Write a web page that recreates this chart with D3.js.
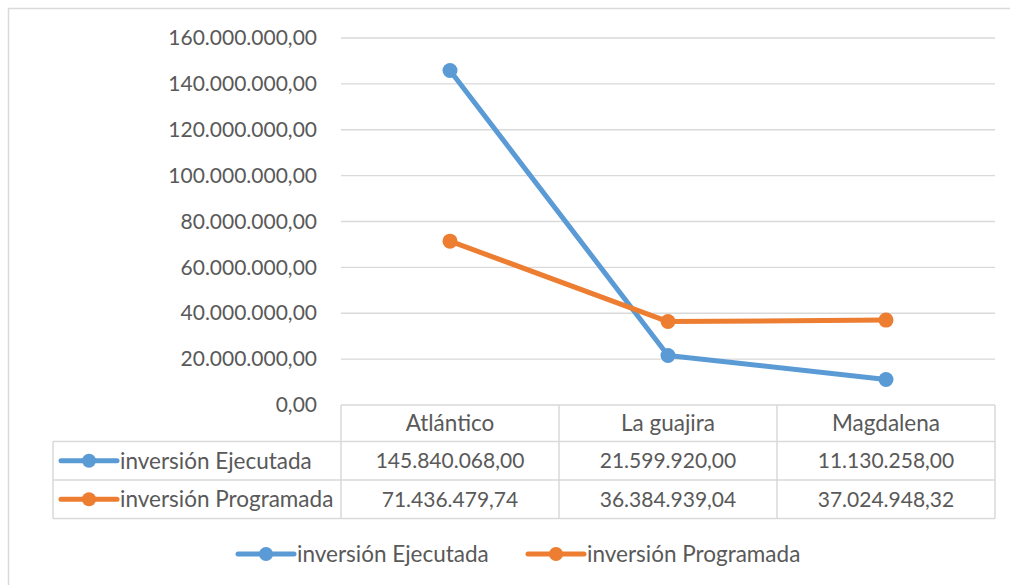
<!DOCTYPE html>
<html lang="es">
<head>
<meta charset="utf-8">
<title>inversión por departamento</title>
<script src="https://d3js.org/d3.v7.min.js"></script>
<style>
  body { margin: 0; background: #fff; }
  text { font-family: Lato, "Open Sans", sans-serif; fill: #595959; }
  .grid line { stroke: #d9d9d9; stroke-width: 1.3px; }
  .tbl line.rule { stroke: #d9d9d9; stroke-width: 1.5px; }
</style>
</head>
<body>
<script>
// data
var categories = ["Atlántico", "La guajira", "Magdalena"];
var ejecutada = [145840068.00, 21599920.00, 11130258.00];
var programada = [71436479.74, 36384939.04, 37024948.32];
var seriesNames = ["inversión Ejecutada", "inversión Programada"];
var seriesColors = ["#5b9bd5", "#ed7d31"];
var yTicks = [0, 20000000, 40000000, 60000000, 80000000, 100000000, 120000000, 140000000, 160000000];

var w = 1010, h = 585;
var plot = {left: 341, right: 995, top: 38, bottom: 405};
var rowY = [405, 441.5, 480, 518.5]; // table rows
var keyLeft = 53;
var numSize = "21px", wordSize = "22.5px";

var es = d3.formatLocale({decimal: ",", thousands: ".", grouping: [3], currency: ["", ""]});
var fmt = es.format(",.2f");

var svg = d3.select("body").append("svg")
  .attr("width", w).attr("height", h);

// outer chart border (only top & left visible)
svg.append("rect")
  .attr("x", 8.5).attr("y", 8.5)
  .attr("width", w).attr("height", h)
  .attr("fill", "none").attr("stroke", "#d9d9d9").attr("stroke-width", 1.5);

var xScale = d3.scaleBand().domain(categories).range([plot.left, plot.right]);
var yScale = d3.scaleLinear().domain([0, 160000000]).range([plot.bottom, plot.top]);

// gridlines
svg.append("g").attr("class", "grid")
  .selectAll("line").data(yTicks.slice(1)).enter().append("line")
  .attr("x1", plot.left).attr("x2", plot.right)
  .attr("y1", d => yScale(d)).attr("y2", d => yScale(d));

// y axis labels
var yAxis = d3.axisLeft(yScale).tickValues(yTicks).tickFormat(fmt).tickSize(0).tickPadding(24);
var ya = svg.append("g").attr("transform", `translate(${plot.left},0)`).call(yAxis);
ya.select(".domain").remove();
ya.selectAll("text").style("font-size", numSize).attr("fill", "#595959").style("font-family", null);

// data table
var tbl = svg.append("g").attr("class", "tbl");
function rule(x1, x2, y1, y2) {
  tbl.append("line").attr("class", "rule")
    .attr("x1", x1).attr("x2", x2).attr("y1", y1).attr("y2", y2);
}
rule(plot.left, plot.right, rowY[0], rowY[0]);
[1, 2, 3].forEach(i => rule(keyLeft, plot.right, rowY[i], rowY[i]));
rule(keyLeft, keyLeft, rowY[1], rowY[3]);
categories.forEach(c => rule(xScale(c), xScale(c), rowY[0], rowY[3]));
rule(plot.right, plot.right, rowY[0], rowY[3]);

// header row
tbl.selectAll("text.cat").data(categories).enter().append("text")
  .attr("class", "cat")
  .attr("x", d => xScale(d) + xScale.bandwidth() / 2)
  .attr("y", (rowY[0] + rowY[1]) / 2)
  .attr("dy", "0.35em").attr("text-anchor", "middle")
  .style("font-size", wordSize).text(d => d);

var allSeries = [ejecutada, programada];

function drawKey(g, x, y, color) {
  g.append("line").attr("x1", x).attr("x2", x + 56).attr("y1", y).attr("y2", y)
    .attr("stroke", color).attr("stroke-width", 5).attr("stroke-linecap", "round");
  g.append("circle").attr("cx", x + 28).attr("cy", y).attr("r", 7).attr("fill", color);
}

allSeries.forEach(function(vals, s) {
  var cy = (rowY[s + 1] + rowY[s + 2]) / 2;
  drawKey(tbl, 61, cy, seriesColors[s]);
  tbl.append("text").attr("x", 120).attr("y", cy).attr("dy", "0.35em")
    .style("font-size", wordSize).text(seriesNames[s]);
  tbl.selectAll("text.v" + s).data(vals).enter().append("text")
    .attr("class", "v" + s)
    .attr("x", (d, i) => xScale(categories[i]) + xScale.bandwidth() / 2)
    .attr("y", cy).attr("dy", "0.35em").attr("text-anchor", "middle")
    .style("font-size", numSize).text(d => fmt(d));
});

// lines + markers
var lineGen = d3.line()
  .x((d, i) => xScale(categories[i]) + xScale.bandwidth() / 2)
  .y(d => yScale(d));

allSeries.forEach(function(vals, s) {
  var g = svg.append("g");
  g.append("path").datum(vals)
    .attr("d", lineGen).attr("fill", "none")
    .attr("stroke", seriesColors[s]).attr("stroke-width", 5)
    .attr("stroke-linejoin", "round").attr("stroke-linecap", "round");
  g.selectAll("circle").data(vals).enter().append("circle")
    .attr("cx", (d, i) => xScale(categories[i]) + xScale.bandwidth() / 2)
    .attr("cy", d => yScale(d))
    .attr("r", 7.5).attr("fill", seriesColors[s]);
});

// bottom legend
var legY = 554;
var legX = [238, 528];
var leg = svg.append("g");
seriesNames.forEach(function(name, s) {
  drawKey(leg, legX[s], legY, seriesColors[s]);
  leg.append("text").attr("x", legX[s] + 59).attr("y", legY).attr("dy", "0.35em")
    .style("font-size", wordSize).text(name);
});
</script>
</body>
</html>
